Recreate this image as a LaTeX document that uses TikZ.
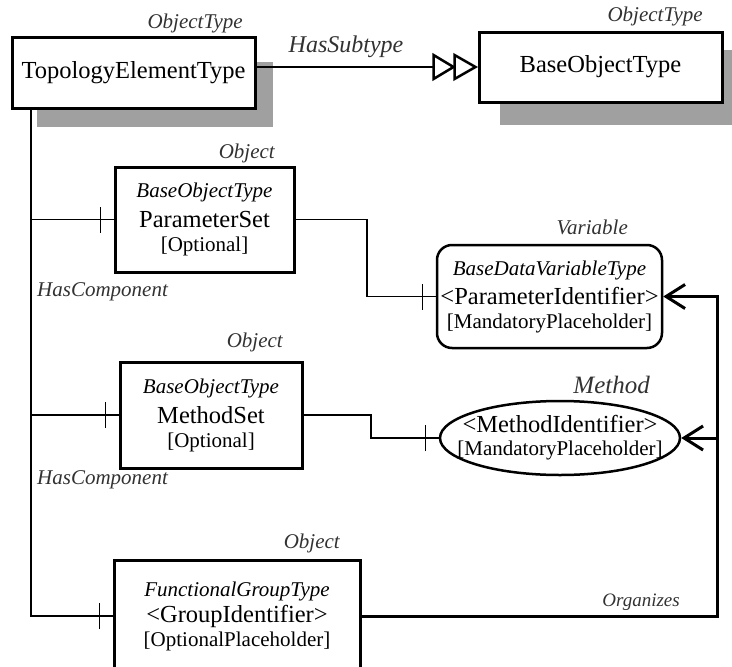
\documentclass[tikz,border=0pt]{standalone}
\usepackage{fontspec}
\setmainfont{Liberation Serif}
\usetikzlibrary{arrows.meta,shapes.geometric,decorations.markings}
\definecolor{shadow_gray}{RGB}{160,160,160}
\definecolor{label_gray}{RGB}{50,50,50}

\begin{document}
\begin{tikzpicture}[x=1pt,y=-1pt]
    \tikzstyle{typebox}=[draw, line width=3pt, fill=white, inner sep=0pt, align=center, font=\fontsize{24.5}{24}\selectfont]
    \tikzstyle{varbox}=[typebox, line width=2.5pt, rounded corners=15pt]
    \tikzstyle{methshape}=[draw, ellipse, line width=2.5pt, fill=white, inner sep=0pt, minimum width=240pt, minimum height=74pt]
    \tikzstyle{methtext}=[align=center, inner sep=0pt, font=\fontsize{24.5}{23}\selectfont]
    \tikzstyle{kind}=[font=\fontsize{21}{24}\selectfont\itshape, text=label_gray, inner sep=0pt]
    \tikzstyle{conn}=[line width=1.3pt]
    \tikzstyle{onetick}=[postaction={decorate,decoration={markings,mark=at position -13pt with {\draw[line width=1.3pt] (0,-13pt) -- (0,13pt);}}}]
    \tikzstyle{organizes}=[line width=3pt, -{Straight Barb[length=19pt,width=24pt,line width=3pt]}]
    \tikzstyle{hollowtri}=[draw, line width=2.5pt, fill=white, line join=miter]

    \useasboundingbox (0,0) rectangle (732,667);

    % shadows of the two type boxes
    \fill[shadow_gray] (37,62) rectangle (273,127);
    \fill[shadow_gray] (500,50) rectangle (732,125);

    \node[typebox, minimum width=243pt, minimum height=71pt] (topo) at (133.5,72.5) {TopologyElementType};
    \node[typebox, minimum width=243pt, minimum height=70pt] (base) at (600.5,67)   {BaseObjectType};

    \node[typebox, minimum width=179pt, minimum height=105pt] (param) at (204.5,219.5)
        {{\fontsize{21}{24}\selectfont\itshape BaseObjectType}\\[6pt] ParameterSet\\ {\fontsize{21}{24}\selectfont [Optional]}};
    \node[typebox, minimum width=182pt, minimum height=106pt] (meth) at (211,415)
        {{\fontsize{21}{24}\selectfont\itshape BaseObjectType}\\[6pt] MethodSet\\ {\fontsize{21}{24}\selectfont [Optional]}};
    \node[typebox, minimum width=246pt, minimum height=112pt] (grp) at (237,616)
        {{\fontsize{21}{24}\selectfont\itshape FunctionalGroupType}\\[2pt] <GroupIdentifier>\\ {\fontsize{21}{24}\selectfont [OptionalPlaceholder]}};

    \node[varbox, minimum width=225pt, minimum height=103pt] (var) at (549.5,296.5)
        {{\fontsize{21}{23}\selectfont\itshape BaseDataVariableType}\\[5pt] <ParameterIdentifier>\\ {\fontsize{21}{23}\selectfont [MandatoryPlaceholder]}};
    \node[methshape, label={[methtext]center:{<MethodIdentifier>\\ {\fontsize{21}{23}\selectfont [MandatoryPlaceholder]}}}] (mident) at (560,438) {};

    % type definitions and reference names
    \node[kind, anchor=base east] (topokind)  at (243,28)  {ObjectType};
    \node[kind, anchor=base east] (basekind)  at (703,21)  {ObjectType};
    \node[kind, anchor=base east] (paramkind) at (275,158) {Object};
    \node[kind, anchor=base east] (methkind)  at (283,347) {Object};
    \node[kind, anchor=base east] (grpkind)   at (340,548) {Object};
    \node[kind, anchor=base east] (varkind)   at (628,234) {Variable};
    \node[kind, anchor=base east, font=\fontsize{25}{28}\selectfont\itshape] (midkind) at (650,393) {Method};

    \node[kind, anchor=base, font=\fontsize{24}{26}\selectfont\itshape] (subname) at (346,52) {HasSubtype};
    \node[kind, anchor=base west] (compname1) at (37,296) {HasComponent};
    \node[kind, anchor=base west] (compname2) at (37,484) {HasComponent};
    \node[kind, anchor=base east, font=\fontsize{19}{22}\selectfont\itshape] (orgname) at (680,606) {Organizes};

    \coordinate (trunk) at (31,0);
    \coordinate (bendA) at (367,0);
    \coordinate (bendB) at (371,0);
    \coordinate (bus)   at (717,0);
    \coordinate (subback) at ([xshift=-44pt]base.west);

    % HasSubtype with its two hollow triangles
    \draw[conn] (base.west -| topo.east) -- (subback);
    \draw[hollowtri] ([yshift=12pt]subback) -- ([yshift=-12pt]subback) -- ([xshift=20pt]subback) -- cycle;
    \draw[hollowtri] ([xshift=21pt,yshift=12pt]subback) -- ([xshift=21pt,yshift=-12pt]subback) -- ([xshift=-2pt]base.west) -- cycle;

    \draw[conn, onetick] (topo.south -| trunk) |- (grp.west);
    \draw[conn, onetick] (param.west -| trunk) -- (param.west);
    \draw[conn, onetick] (meth.west -| trunk) -- (meth.west);

    \draw[conn, onetick] (param.east) -- (param.east -| bendA) |- (var.west);
    \draw[conn, onetick] (meth.east) -- (meth.east -| bendB) |- (mident.west);

    \draw[organizes] (grp.east) -- (grp.east -| bus) |- (var.east);
    \draw[organizes] (mident.east -| bus) -- (mident.east);
\end{tikzpicture}
\end{document}
